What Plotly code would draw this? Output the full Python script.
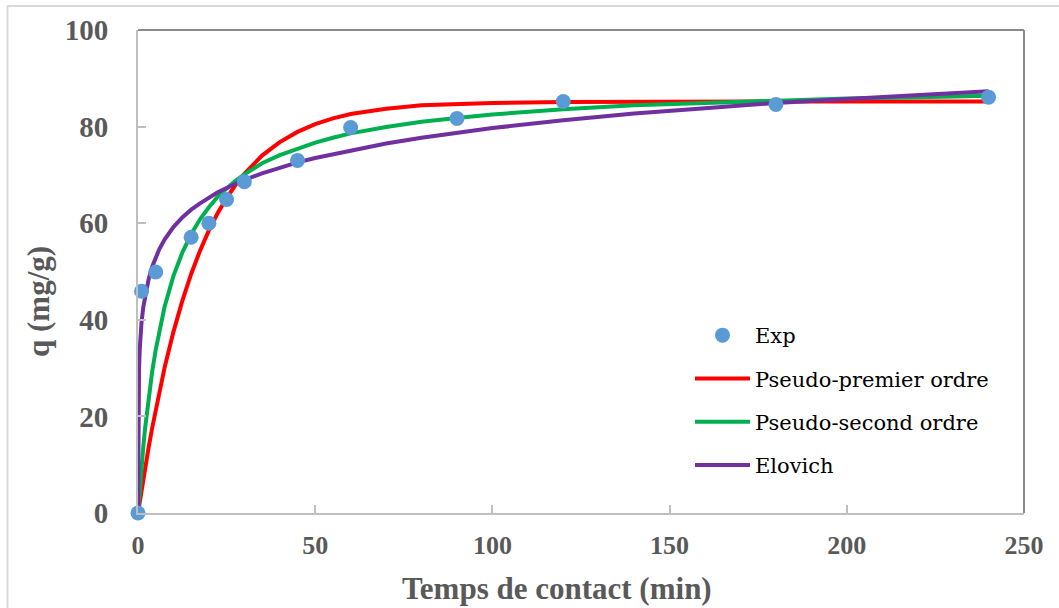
import plotly.graph_objects as go

# Experimental data
t_exp = [0, 1, 5, 15, 20, 25, 30, 45, 60, 90, 120, 180, 240]
q_exp = [0, 45.9, 49.9, 57.1, 60.0, 64.9, 68.6, 73.0, 79.8, 81.7, 85.2, 84.6, 86.1]

# Model curves
t_fit = [0, 0.05, 0.1, 0.2, 0.3, 0.5, 0.75, 1, 1.5, 2,
         3, 4, 5, 6, 7.5, 10, 12.5, 15, 17.5, 20,
         22.5, 25, 27.5, 30, 35, 40, 45, 50, 55, 60,
         70, 80, 90, 100, 120, 140, 160, 180, 200, 220, 240]
q_pfo = [0, 0.25, 0.49, 0.98, 1.47, 2.44, 3.63, 4.8, 7.1, 9.33,
         13.6, 17.6, 21.4, 25.0, 30.1, 37.5, 43.9, 49.5, 54.3, 58.5,
         62.1, 65.2, 67.9, 70.2, 74.0, 76.8, 78.9, 80.5, 81.7, 82.6,
         83.7, 84.4, 84.7, 84.9, 85.1, 85.2, 85.2, 85.2, 85.2, 85.2, 85.2]
q_pso = [0, 0.54, 1.08, 2.13, 3.15, 5.13, 7.49, 9.71, 13.8, 17.5,
         23.9, 29.3, 33.8, 37.7, 42.7, 49.1, 53.9, 57.7, 60.8, 63.3,
         65.5, 67.2, 68.8, 70.1, 72.4, 74.1, 75.5, 76.7, 77.7, 78.6,
         79.9, 81.0, 81.8, 82.5, 83.6, 84.4, 84.9, 85.4, 85.8, 86.1, 86.4]
q_elo = [0, 15.5, 21.0, 26.8, 30.0, 34.0, 37.2, 39.5, 42.7, 45.0,
         48.4, 51.0, 53.0, 54.6, 56.6, 59.2, 61.2, 62.8, 64.1, 65.3,
         66.4, 67.3, 68.2, 69.0, 70.3, 71.5, 72.6, 73.5, 74.3, 75.1,
         76.5, 77.7, 78.7, 79.7, 81.3, 82.7, 83.8, 84.9, 85.7, 86.5, 87.3]

names = ["Exp", "Pseudo-premier ordre", "Pseudo-second ordre", "Elovich"]
colors = ["#5B9BD5", "#FF0000", "#00B050", "#7030A0"]

x_ticks = [0, 50, 100, 150, 200, 250]
y_ticks = [0, 20, 40, 60, 80, 100]

SERIF = "Liberation Serif"
LEGEND_FONT = "DejaVu Serif"

fig = go.Figure()
fig.add_trace(go.Scatter(x=t_fit, y=q_pfo, mode="lines", name=names[1],
                         line=dict(color=colors[1], width=4),
                         legendrank=2, legendgroup="b"))
fig.add_trace(go.Scatter(x=t_fit, y=q_pso, mode="lines", name=names[2],
                         line=dict(color=colors[2], width=4),
                         legendrank=3, legendgroup="c"))
fig.add_trace(go.Scatter(x=t_fit, y=q_elo, mode="lines", name=names[3],
                         line=dict(color=colors[3], width=4),
                         legendrank=4, legendgroup="d"))
fig.add_trace(go.Scatter(x=t_exp, y=q_exp, mode="markers", name=names[0],
                         marker=dict(color=colors[0], size=15),
                         legendrank=1, legendgroup="a", cliponaxis=False))

tickfont_y = dict(family=SERIF, size=29, color="#595959", weight="bold")
tickfont_x = dict(family=SERIF, size=26, color="#595959", weight="bold")
titlefont = dict(family=SERIF, size=31, color="#595959", weight="bold")

W, H = 1059, 608
L, R, T, B = 138, 35, 30, 95
pw, ph = W - L - R, H - T - B

def px(xp):
    return (xp - L) / pw

def py(yp):
    return (H - B - yp) / ph

fig.update_layout(
    width=W, height=H,
    margin=dict(l=L, r=R, t=T, b=B),
    paper_bgcolor="white", plot_bgcolor="white",
    showlegend=True,
    legend=dict(x=px(690), y=py(315), xanchor="left", yanchor="top",
                font=dict(family=LEGEND_FONT, size=21, color="black"),
                bgcolor="rgba(0,0,0,0)", tracegroupgap=13, itemwidth=55,
                traceorder="grouped"),
    xaxis=dict(range=[0, 250], tickvals=x_ticks, showgrid=False, zeroline=False,
               showline=True, linecolor="#BFBFBF", linewidth=2,
               ticks="inside", ticklen=8, tickcolor="#BFBFBF", tickwidth=1.5,
               tickfont=tickfont_x, ticklabelstandoff=8),
    yaxis=dict(range=[0, 100], tickvals=y_ticks, showgrid=False, zeroline=False,
               showline=True, linecolor="#BFBFBF", linewidth=2,
               ticks="inside", ticklen=8, tickcolor="#BFBFBF", tickwidth=1.5,
               tickfont=tickfont_y, ticklabelstandoff=22),
    annotations=[
        dict(text="Temps de contact (min)", xref="paper", yref="paper",
             x=px(557), y=py(588), xanchor="center", yanchor="middle",
             showarrow=False, font=titlefont),
        dict(text="q (mg/g)", xref="paper", yref="paper",
             x=px(38), y=py(302), xanchor="center", yanchor="middle",
             textangle=-90, showarrow=False, font=titlefont),
    ],
    shapes=[
        dict(type="line", xref="paper", yref="paper", x0=0, x1=1, y0=1, y1=1,
             line=dict(color="#8C8C8C", width=2)),
        dict(type="line", xref="paper", yref="paper", x0=1, x1=1, y0=0, y1=1,
             line=dict(color="#8C8C8C", width=2)),
        dict(type="line", xref="paper", yref="paper", x0=px(7), x1=px(1059), y0=py(6), y1=py(6),
             line=dict(color="#D9D9D9", width=2)),
        dict(type="line", xref="paper", yref="paper", x0=px(7.5), x1=px(7.5), y0=py(6), y1=py(608),
             line=dict(color="#D9D9D9", width=2)),
    ],
)

fig.write_html("out.html")
